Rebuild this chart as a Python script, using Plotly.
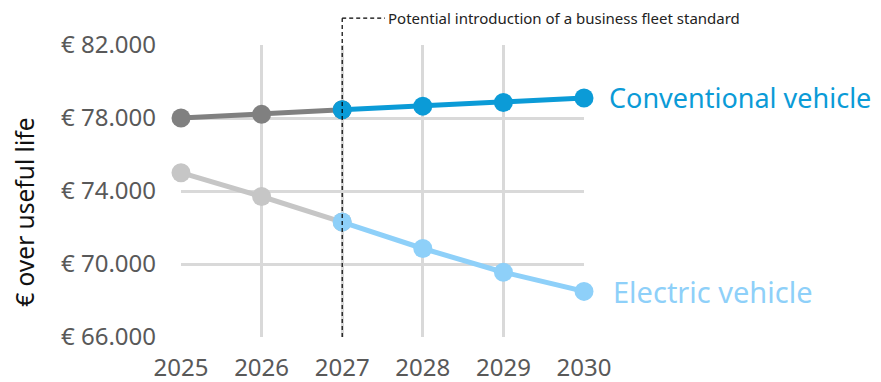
import plotly.graph_objects as go

years = [2025, 2026, 2027, 2028, 2029, 2030]
conventional = [78000, 78200, 78450, 78650, 78850, 79100]
electric = [75000, 73700, 72300, 70850, 69550, 68500]
split_year = 2027
y_ticks = [66000, 70000, 74000, 78000, 82000]
y_tick_labels = ["€ 66.000", "€ 70.000", "€ 74.000", "€ 78.000", "€ 82.000"]
annotation_text = "Potential introduction of a business fleet standard"
y_title = "€ over useful life"

si = years.index(split_year)
FONT = "Noto Sans"

fig = go.Figure()

def add(xs, ys, color):
    fig.add_trace(go.Scatter(
        x=xs, y=ys, mode="lines+markers",
        line=dict(color=color, width=5),
        marker=dict(color=color, size=19),
        cliponaxis=False, showlegend=False, hoverinfo="skip"))

add(years[:si + 1], conventional[:si + 1], "#808080")
add(years[:si + 1], electric[:si + 1], "#c6c6c6")
add(years[si:], conventional[si:], "#0b9bd7")
add(years[si:], electric[si:], "#8ed0f9")

# dashed marker line
top = 1.092
fig.add_shape(type="line", xref="x", yref="paper", x0=split_year, x1=split_year,
              y0=0, y1=top, line=dict(color="black", width=1.2, dash="4px,3px"))
fig.add_shape(type="line", xref="x", yref="paper", x0=split_year, x1=split_year + 0.53,
              y0=top, y1=top, line=dict(color="black", width=1.2, dash="4px,3px"))
fig.add_annotation(x=split_year, y=top, xref="x", yref="paper", xshift=44,
                   text=annotation_text, showarrow=False, xanchor="left", yanchor="middle",
                   font=dict(family=FONT, size=15, color="#222222"))

fig.add_annotation(x=years[-1], y=conventional[-1], xref="x", yref="y", xshift=23,
                   text="Conventional vehicle", showarrow=False, xanchor="left", yanchor="middle",
                   font=dict(family=FONT, size=27, color="#0b9bd7"))
fig.add_annotation(x=years[-1], y=electric[-1], xref="x", yref="y", xshift=27,
                   text="Electric vehicle", showarrow=False, xanchor="left", yanchor="middle",
                   font=dict(family=FONT, size=29, color="#8ed0f9"))

fig.add_annotation(x=-0.39, y=0.428, xref="paper", yref="paper", text=y_title,
                   textangle=-90, showarrow=False, xanchor="center", yanchor="middle",
                   font=dict(family=FONT, size=24.5, color="#111111"))

fig.update_xaxes(range=[2025, 2030], tickvals=years, ticktext=[str(y) for y in years],
                 showgrid=True, gridcolor="#d9d9d9", gridwidth=3, zeroline=False,
                 showline=False, ticks="", ticklabelstandoff=14, automargin=False,
                 tickfont=dict(family=FONT, size=24, color="#595959"))
fig.update_yaxes(range=[66000, 82000], tickvals=y_ticks, ticktext=y_tick_labels,
                 showgrid=True, gridcolor="#d9d9d9", gridwidth=3, zeroline=False,
                 showline=False, ticks="", ticklabelstandoff=24, automargin=False,
                 tickfont=dict(family=FONT, size=24, color="#595959"))

fig.update_layout(width=881, height=382, plot_bgcolor="white", paper_bgcolor="white",
                  margin=dict(l=173, r=305, t=37, b=53))

fig.write_html("out.html")
